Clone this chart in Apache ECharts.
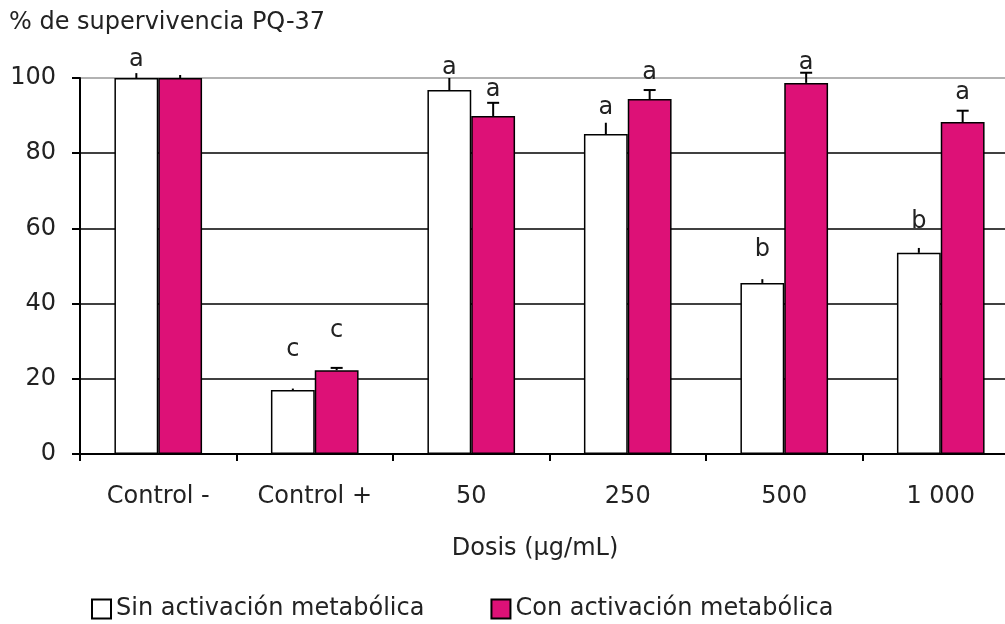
<!DOCTYPE html>
<html><head><meta charset="utf-8">
<script src="https://cdn.jsdelivr.net/npm/echarts@6/dist/echarts.min.js"></script>
<style>html,body{margin:0;padding:0;background:#fff;overflow:hidden;width:1005px;height:624px}#c{width:1019px;height:624px}</style>
</head><body><div id="c"></div>
<script>
var categories = ['Control -', 'Control +', '50', '250', '500', '1 000'];
var sinValues = [100, 17.0, 96.8, 85.1, 45.5, 53.5];
var conValues = [100, 22.3, 89.9, 94.4, 98.7, 88.3];
var sinErr = [1.3, 0.4, 3.2, 3.0, 1.0, 1.3];
var conErr = [0.8, 0.6, 3.5, 2.4, 2.7, 3.0];
var sinLetters = ['a', 'c', 'a', 'a', 'b', 'b'];
var conLetters = ['', 'c', 'a', 'a', 'a', 'a'];
var sinLetterY = [104.8, 27.7, 102.7, 92.0, 54.3, 61.7];
var conLetterY = [0, 32.7, 96.8, 101.3, 104.0, 96.0];
var yTicks = [0, 20, 40, 60, 80, 100];
var seriesNames = ['Sin activación metabólica', 'Con activación metabólica'];

var FONT = 'DejaVu Sans';
var FS = 24;
var MAGENTA = '#DD1177';
var BARW = 0.28;

function zip3(a, b, c) { return a.map(function (v, i) { return [i, b[i], c[i]]; }); }

function errRender(side, cap) {
  return function (params, api) {
    var i = api.value(0), v = api.value(1), e = api.value(2);
    var band = api.size([1, 0])[0];
    var off = side * band * BARW / 2;
    var p0 = api.coord([i, v]);
    var p1 = api.coord([i, v + e]);
    var x = p0[0] + off;
    var children = [{
      type: 'line', shape: { x1: x, y1: p0[1], x2: x, y2: p1[1] },
      style: { stroke: '#000', lineWidth: 2 }
    }];
    if (cap && i > 0) {
      children.push({
        type: 'line', shape: { x1: x - 6, y1: p1[1], x2: x + 6, y2: p1[1] },
        style: { stroke: '#000', lineWidth: 2 }
      });
    }
    return { type: 'group', children: children };
  };
}

function letterRender(side, letters) {
  return function (params, api) {
    var i = api.value(0), y = api.value(1);
    var band = api.size([1, 0])[0];
    var off = side * band * BARW / 2;
    var p = api.coord([i, y]);
    return {
      type: 'text',
      style: {
        text: letters[i], x: p[0] + off, y: p[1],
        align: 'center', verticalAlign: 'middle',
        font: FS + 'px "' + FONT + '"', fill: '#222'
      }
    };
  };
}

var chart = echarts.init(document.getElementById('c'), null, { renderer: 'canvas' });
chart.setOption({
  animation: false,
  backgroundColor: '#fff',
  title: {
    text: '% de supervivencia PQ-37', left: 4, top: 6,
    textStyle: { fontFamily: FONT, fontSize: FS, fontWeight: 'normal', color: '#222' }
  },
  legend: {
    data: seriesNames, left: 86, top: 592, itemWidth: 19, itemHeight: 19, itemGap: 66,
    icon: 'rect',
    textStyle: { fontFamily: FONT, fontSize: FS, color: '#222' }
  },
  grid: { left: 80, top: 78, right: 0, height: 376, containLabel: false },
  xAxis: {
    type: 'category', data: categories,
    axisLine: { lineStyle: { color: '#000', width: 2 } },
    axisTick: { show: true, length: 7, lineStyle: { color: '#000', width: 2 } },
    axisLabel: { fontFamily: FONT, fontSize: FS, color: '#222', margin: 31 },
    name: 'Dosis (µg/mL)', nameLocation: 'middle', nameGap: 83,
    nameTextStyle: { fontFamily: FONT, fontSize: FS, color: '#222', padding: [0, 29, 0, 0] }
  },
  yAxis: {
    type: 'value', min: 0, max: 100, interval: 20,
    axisLine: { show: true, lineStyle: { color: '#000', width: 2 } },
    axisTick: { show: true, length: 8, lineStyle: { color: '#000', width: 2 } },
    axisLabel: {
      fontFamily: FONT, fontSize: FS, color: '#222', margin: 24,
      formatter: function (v) { return yTicks.indexOf(v) >= 0 ? String(v) : ''; }
    },
    splitLine: { show: true, lineStyle: { color: ['#000', '#000', '#000', '#000', '#000', '#999'], width: 1.5 } }
  },
  series: [
    {
      name: seriesNames[0], type: 'bar', data: sinValues, barWidth: '28%', barGap: '0%',
      itemStyle: { color: '#fff', borderColor: '#000', borderWidth: 1.5 }
    },
    {
      name: seriesNames[1], type: 'bar', data: conValues, barWidth: '28%', barGap: '0%',
      itemStyle: { color: MAGENTA, borderColor: '#000', borderWidth: 1.5 }
    },
    {
      type: 'custom', data: zip3(categories, sinValues, sinErr), renderItem: errRender(-1, false),
      encode: { x: 0, y: 1 }, z: 5, silent: true
    },
    {
      type: 'custom', data: zip3(categories, conValues, conErr), renderItem: errRender(1, true),
      encode: { x: 0, y: 1 }, z: 5, silent: true
    },
    {
      type: 'custom', data: sinLetterY.map(function (y, i) { return [i, y]; }),
      renderItem: letterRender(-1, sinLetters), encode: { x: 0, y: 1 }, z: 6, silent: true
    },
    {
      type: 'custom', data: conLetterY.map(function (y, i) { return [i, y]; }),
      renderItem: letterRender(1, conLetters), encode: { x: 0, y: 1 }, z: 6, silent: true
    }
  ]
});
</script></body></html>
